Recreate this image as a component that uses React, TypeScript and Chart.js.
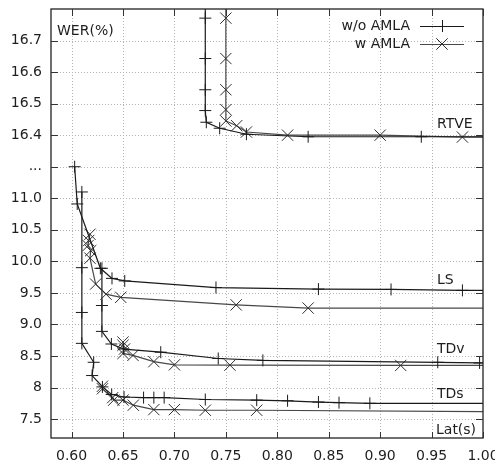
import { useEffect, useRef } from 'react';
import { Chart, registerables } from 'chart.js';

Chart.register(...registerables);

// ---- axis ticks ----
const xTickValues = [0.6, 0.65, 0.7, 0.75, 0.8, 0.85, 0.9, 0.95, 1.0];
const xTickLabels = ['0.60', '0.65', '0.70', '0.75', '0.80', '0.85', '0.90', '0.95', '1.00'];
const yTickValues = [7.5, 8, 8.5, 9, 9.5, 10, 10.5, 11, 11.5, 16.4, 16.5, 16.6, 16.7];
const yTickLabels = ['7.5', '8', '8.5', '9.0', '9.5', '10.0', '10.5', '11.0', '...', '16.4', '16.5', '16.6', '16.7'];

// ---- series (Lat(s), WER(%)) ----
const rtveWoX = [0.730, 0.730, 0.730, 0.730, 0.730, 0.731, 0.744, 0.770, 0.830, 0.940, 1.05];
const rtveWoY = [16.90, 16.771, 16.643, 16.544, 16.478, 16.441, 16.422, 16.403, 16.395, 16.395, 16.395];
const rtveWX = [0.750, 0.750, 0.750, 0.750, 0.750, 0.750, 0.7605, 0.770, 0.810, 0.900, 0.980, 1.05];
const rtveWY = [16.90, 16.771, 16.643, 16.544, 16.481, 16.445, 16.43, 16.41, 16.40, 16.40, 16.394, 16.394];

const lsWoX = [0.603, 0.6055, 0.628, 0.6393, 0.6517, 0.7404, 0.840, 0.9106, 0.980, 1.05];
const lsWoY = [11.5, 10.91, 9.89, 9.73, 9.69, 9.585, 9.56, 9.555, 9.54, 9.54];
const lsWX = [0.6179, 0.6166, 0.6160, 0.6186, 0.6179, 0.6234, 0.6335, 0.6478, 0.760, 0.830, 1.05];
const lsWY = [10.43, 10.33, 10.25, 10.17, 10.05, 9.64, 9.48, 9.43, 9.31, 9.26, 9.26];

const tdvWoX = [0.6295, 0.6295, 0.6295, 0.6387, 0.6507, 0.6867, 0.7426, 0.786, 0.956, 0.9967, 1.05];
const tdvWoY = [9.89, 9.30, 8.89, 8.69, 8.61, 8.56, 8.46, 8.43, 8.40, 8.39, 8.39];
const tdvWX = [0.650, 0.650, 0.6515, 0.650, 0.6597, 0.680, 0.700, 0.754, 0.920, 1.05];
const tdvWY = [8.72, 8.67, 8.61, 8.54, 8.51, 8.41, 8.36, 8.355, 8.35, 8.35];

const tdsWoX = [0.61, 0.61, 0.61, 0.61, 0.6215, 0.62, 0.63, 0.639, 0.651, 0.670, 0.680, 0.690, 0.730, 0.780, 0.810, 0.840, 0.860, 0.890, 1.05];
const tdsWoY = [11.1, 9.9, 9.19, 8.70, 8.40, 8.19, 8.01, 7.89, 7.85, 7.84, 7.84, 7.84, 7.81, 7.80, 7.79, 7.77, 7.76, 7.75, 7.75];
const tdsWX = [0.630, 0.630, 0.640, 0.641, 0.650, 0.660, 0.680, 0.700, 0.730, 0.780, 1.05];
const tdsWY = [8.02, 7.98, 7.84, 7.80, 7.80, 7.72, 7.65, 7.65, 7.64, 7.64, 7.615];

const legendLabels = ['w/o AMLA', 'w AMLA'];
const seriesNames = ['RTVE', 'LS', 'TDv', 'TDs'];
const seriesNameY = [16.434, 9.70, 8.60, 7.886];

// broken y axis: lower part 0.5 per unit, upper part 0.1 per unit
const T = (v: number) => (v >= 16 ? 9 + (v - 16.4) * 10 : (v - 7.5) * 2);

const FONT = '14px "DejaVu Sans"';
const TEXT = '#1e1e1e';
const WO_COLOR = '#1a1a1a';
const W_COLOR = '#484848';
const MARK_W = '#2e2e2e';

function toPts(xs: number[], ys: number[]) {
  return xs.map((x, i) => ({ x, y: T(ys[i]) }));
}

function mkDs(label: string, xs: number[], ys: number[], w: boolean) {
  return {
    label,
    data: toPts(xs, ys),
    showLine: true,
    borderColor: w ? W_COLOR : WO_COLOR,
    borderWidth: 1.2,
    pointStyle: w ? 'crossRot' : 'cross',
    pointRadius: w ? 8 : 6,
    pointHoverRadius: w ? 8 : 6,
    pointBorderColor: w ? MARK_W : WO_COLOR,
    pointBorderWidth: 1,
    pointBackgroundColor: 'transparent',
    tension: 0,
  };
}

const gnuplotPlugin = {
  id: 'gnuplotDeco',
  beforeDatasetsDraw(chart: any) {
    const { ctx, chartArea: a, scales } = chart;
    const xs = scales.x, ys = scales.y;
    ctx.save();
    ctx.strokeStyle = '#b4b4b4';
    ctx.lineWidth = 1;
    ctx.setLineDash([1, 2]);
    xTickValues.forEach((v) => {
      const px = Math.round(xs.getPixelForValue(v)) + 0.5;
      if (px > a.right - 1) return;
      ctx.beginPath();
      ctx.moveTo(px, a.top);
      ctx.lineTo(px, a.bottom);
      ctx.stroke();
    });
    yTickValues.forEach((v) => {
      const py = Math.round(ys.getPixelForValue(T(v))) + 0.5;
      ctx.beginPath();
      ctx.moveTo(a.left, py);
      ctx.lineTo(a.right, py);
      ctx.stroke();
    });
    ctx.restore();
  },
  afterDatasetsDraw(chart: any) {
    const { ctx, chartArea: a, scales } = chart;
    const xs = scales.x, ys = scales.y;
    ctx.save();
    // frame
    ctx.strokeStyle = '#222';
    ctx.lineWidth = 1.3;
    ctx.strokeRect(a.left, a.top, a.right - a.left, a.bottom - a.top);
    // inward ticks
    ctx.lineWidth = 1;
    ctx.strokeStyle = '#333';
    xTickValues.forEach((v) => {
      const px = Math.round(xs.getPixelForValue(v)) + 0.5;
      ctx.beginPath();
      ctx.moveTo(px, a.bottom);
      ctx.lineTo(px, a.bottom - 6);
      ctx.moveTo(px, a.top);
      ctx.lineTo(px, a.top + 7);
      ctx.stroke();
    });
    yTickValues.forEach((v) => {
      const py = Math.round(ys.getPixelForValue(T(v))) + 0.5;
      ctx.beginPath();
      ctx.moveTo(a.left, py);
      ctx.lineTo(a.left + 7, py);
      ctx.moveTo(a.right, py);
      ctx.lineTo(a.right - 7, py);
      ctx.stroke();
    });
    // texts
    ctx.font = FONT;
    ctx.fillStyle = TEXT;
    ctx.textBaseline = 'middle';
    ctx.textAlign = 'left';
    ctx.fillText('WER(%)', a.left + 6, a.top + 22);
    ctx.fillText('Lat(s)', a.right - 47, a.bottom - 8);
    const lx = xs.getPixelForValue(0.9552);
    seriesNames.forEach((n, i) => {
      ctx.fillText(n, lx, ys.getPixelForValue(T(seriesNameY[i])));
    });
    // legend
    ctx.textAlign = 'right';
    const rows = [a.top + 17, a.top + 35];
    legendLabels.forEach((lab, i) => {
      const y = rows[i];
      ctx.fillStyle = TEXT;
      ctx.fillText(lab, a.right - 73, y);
      ctx.strokeStyle = i === 0 ? WO_COLOR : W_COLOR;
      ctx.lineWidth = 1.2;
      ctx.beginPath();
      ctx.moveTo(a.right - 63, y + 0.5);
      ctx.lineTo(a.right - 19, y + 0.5);
      ctx.stroke();
      const cx = a.right - 41;
      ctx.strokeStyle = i === 0 ? WO_COLOR : MARK_W;
      ctx.lineWidth = 1;
      ctx.beginPath();
      if (i === 0) {
        ctx.moveTo(cx - 6, y + 0.5);
        ctx.lineTo(cx + 6, y + 0.5);
        ctx.moveTo(cx + 0.5, y - 6);
        ctx.lineTo(cx + 0.5, y + 6);
      } else {
        ctx.moveTo(cx - 5.7, y - 5.7);
        ctx.lineTo(cx + 5.7, y + 5.7);
        ctx.moveTo(cx - 5.7, y + 5.7);
        ctx.lineTo(cx + 5.7, y - 5.7);
      }
      ctx.stroke();
    });
    ctx.restore();
  },
};

function labelFor(values: number[], labels: string[], v: number, mapped: boolean) {
  for (let i = 0; i < values.length; i++) {
    const t = mapped ? T(values[i]) : values[i];
    if (Math.abs(t - v) < 1e-6) return labels[i];
  }
  return '';
}

export default function App() {
  const ref = useRef<HTMLCanvasElement | null>(null);
  useEffect(() => {
    if (!ref.current) return;
    const chart = new Chart(ref.current, {
      type: 'scatter',
      data: {
        datasets: [
          mkDs('RTVE w/o AMLA', rtveWoX, rtveWoY, false),
          mkDs('RTVE w AMLA', rtveWX, rtveWY, true),
          mkDs('LS w/o AMLA', lsWoX, lsWoY, false),
          mkDs('LS w AMLA', lsWX, lsWY, true),
          mkDs('TDv w/o AMLA', tdvWoX, tdvWoY, false),
          mkDs('TDv w AMLA', tdvWX, tdvWY, true),
          mkDs('TDs w/o AMLA', tdsWoX, tdsWoY, false),
          mkDs('TDs w AMLA', tdsWX, tdsWY, true),
        ] as any,
      },
      options: {
        animation: false,
        responsive: false,
        maintainAspectRatio: false,
        layout: { padding: { top: 6, right: 12, left: 0, bottom: 0 } },
        plugins: { legend: { display: false }, tooltip: { enabled: false } },
        scales: {
          x: {
            type: 'linear',
            min: 0.58,
            max: 1.0,
            afterBuildTicks: (s: any) => {
              s.ticks = xTickValues.map((v) => ({ value: v }));
            },
            afterFit: (s: any) => {
              s.height = 30;
              s.paddingLeft = 0;
              s.paddingRight = 0;
            },
            grid: { display: false, drawTicks: false },
            border: { display: false },
            ticks: {
              autoSkip: false,
              maxRotation: 0,
              padding: 10,
              color: TEXT,
              font: { family: 'DejaVu Sans', size: 14 },
              callback: (v: any) => labelFor(xTickValues, xTickLabels, Number(v), false),
            },
          },
          y: {
            type: 'linear',
            min: T(7.2),
            max: T(16.8),
            afterBuildTicks: (s: any) => {
              s.ticks = yTickValues.map((v) => ({ value: T(v) }));
            },
            afterFit: (s: any) => {
              s.width = 51;
              s.paddingTop = 0;
              s.paddingBottom = 0;
            },
            grid: { display: false, drawTicks: false },
            border: { display: false },
            ticks: {
              autoSkip: false,
              padding: 9,
              color: TEXT,
              font: { family: 'DejaVu Sans', size: 14 },
              callback: (v: any) => labelFor(yTickValues, yTickLabels, Number(v), true),
            },
          },
        },
      } as any,
      plugins: [gnuplotPlugin],
    });
    return () => chart.destroy();
  }, []);
  return (
    <div style={{ position: 'absolute', left: 0, top: 0, width: 495, height: 468 }}>
      <canvas ref={ref} width={495} height={468} style={{ display: 'block' }} />
    </div>
  );
}
